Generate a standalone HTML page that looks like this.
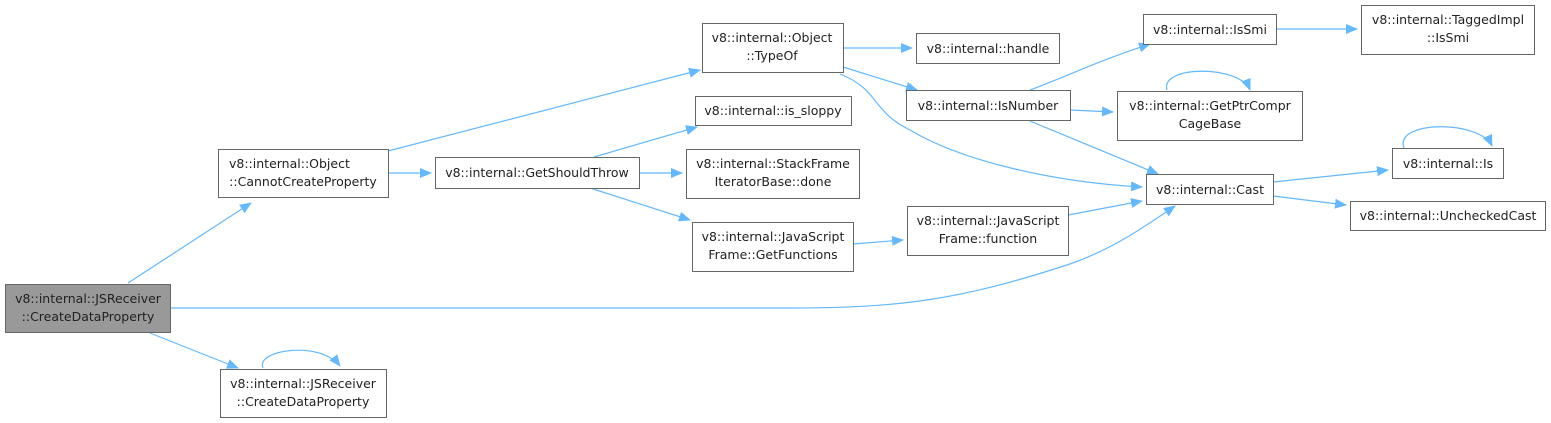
<!DOCTYPE html>
<html><head><style>body{margin:0;background:#fff}svg{display:block}</style></head><body>
<svg width="1551" height="423" viewBox="0 0 1551 423" xmlns="http://www.w3.org/2000/svg" font-family="'DejaVu Sans','Liberation Sans',sans-serif" font-size="12.5">
<defs><marker id="a" markerWidth="12" markerHeight="10" refX="11" refY="5" orient="auto" markerUnits="userSpaceOnUse"><path d="M0,0L12,5L0,10Z" fill="#63b8ff"/></marker></defs>
<g fill="none" stroke="#63b8ff" stroke-width="1.2" marker-end="url(#a)">
<path d="M128,283L251,203"/>
<path d="M171,308L790,308C900,308 960,300 1070,264C1110,250 1140,230 1175,206"/>
<path d="M150,333L238,368"/>
<path d="M263,368C255,350 320,340 340,366"/>
<path d="M388,151L700,70"/>
<path d="M388,173L431,173"/>
<path d="M594,157L697,127"/>
<path d="M639,173L682,173"/>
<path d="M590,188L690,220"/>
<path d="M853,244L903,240"/>
<path d="M843,48L912,48"/>
<path d="M843,67L917,90"/>
<path d="M840,74C880,90 870,110 910,130C960,160 1050,182 1142,187"/>
<path d="M1068,215L1142,201"/>
<path d="M1030,90C1070,75 1100,60 1150,44"/>
<path d="M1070,110L1113,112"/>
<path d="M1030,121L1158,174"/>
<path d="M1167,90C1160,65 1240,65 1250,90"/>
<path d="M1276,29L1357,29"/>
<path d="M1273,182L1388,170"/>
<path d="M1273,196L1346,205"/>
<path d="M1404,148C1394,120 1480,120 1492,146"/>
</g>
<g stroke-width="1">
<rect x="5.5" y="284.5" width="165" height="48" fill="#999" stroke="#666"/>
<g fill="#fff" stroke="#666">
<rect x="218.5" y="149.5" width="170" height="48"/>
<rect x="220.5" y="369.5" width="166" height="48"/>
<rect x="435.5" y="157.5" width="204" height="31"/>
<rect x="702.5" y="23.5" width="141" height="49"/>
<rect x="695.5" y="96.5" width="156" height="29"/>
<rect x="686.5" y="149.5" width="173" height="49"/>
<rect x="692.5" y="222.5" width="161" height="49"/>
<rect x="916.5" y="33.5" width="143" height="30"/>
<rect x="906.5" y="90.5" width="164" height="30"/>
<rect x="907.5" y="206.5" width="161" height="49"/>
<rect x="1143.5" y="14.5" width="133" height="30"/>
<rect x="1117.5" y="91.5" width="185" height="49"/>
<rect x="1146.5" y="174.5" width="127" height="30"/>
<rect x="1361.5" y="5.5" width="173" height="49"/>
<rect x="1392.5" y="148.5" width="111" height="30"/>
<rect x="1350.5" y="201.5" width="195" height="29"/>
</g></g>
<g fill="#222" text-anchor="middle">
<text x="88" y="303">v8::internal::JSReceiver</text><text x="88" y="321">::CreateDataProperty</text>
<text x="229" y="168" text-anchor="start">v8::internal::Object</text><text x="303" y="186">::CannotCreateProperty</text>
<text x="303" y="388">v8::internal::JSReceiver</text><text x="303" y="406">::CreateDataProperty</text>
<text x="537" y="177">v8::internal::GetShouldThrow</text>
<text x="772" y="42">v8::internal::Object</text><text x="772" y="60">::TypeOf</text>
<text x="773" y="115">v8::internal::is_sloppy</text>
<text x="773" y="168">v8::internal::StackFrame</text><text x="773" y="186">IteratorBase::done</text>
<text x="773" y="241">v8::internal::JavaScript</text><text x="773" y="259">Frame::GetFunctions</text>
<text x="988" y="53">v8::internal::handle</text>
<text x="988" y="110">v8::internal::IsNumber</text>
<text x="988" y="225">v8::internal::JavaScript</text><text x="988" y="243">Frame::function</text>
<text x="1210" y="34">v8::internal::IsSmi</text>
<text x="1210" y="110">v8::internal::GetPtrCompr</text><text x="1210" y="128">CageBase</text>
<text x="1210" y="194">v8::internal::Cast</text>
<text x="1448" y="24">v8::internal::TaggedImpl</text><text x="1448" y="42">::IsSmi</text>
<text x="1448" y="168">v8::internal::Is</text>
<text x="1448" y="220">v8::internal::UncheckedCast</text>
</g>
</svg>
</body></html>
